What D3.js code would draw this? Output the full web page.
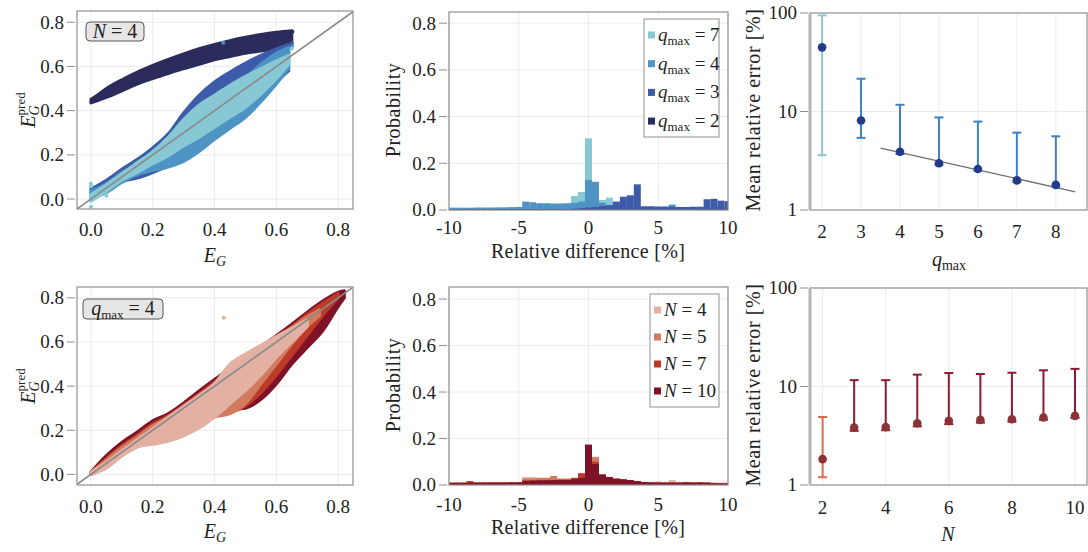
<!DOCTYPE html>
<html>
<head>
<meta charset="utf-8">
<script src="https://cdn.jsdelivr.net/npm/d3@7"></script>
<style>
body { margin: 0; background: #fff; }
svg text { font-family: "Liberation Serif", "Times New Roman", "DejaVu Serif", serif; fill: #222; }
</style>
</head>
<body>
<svg id="fig" width="1088" height="552" font-family="Liberation Serif, Times New Roman, serif"></svg>
<script>
// ---------- data ----------
// scatter envelopes: [E_G, lower E_G^pred, upper E_G^pred]
const bandQ2 = [[0.00,0.435,0.452],[0.02,0.445,0.47],[0.05,0.46,0.50],[0.10,0.49,0.54],[0.15,0.52,0.575],[0.20,0.545,0.605],[0.25,0.568,0.632],[0.30,0.59,0.657],[0.35,0.61,0.68],[0.40,0.63,0.70],[0.45,0.645,0.717],[0.50,0.66,0.732],[0.55,0.67,0.745],[0.60,0.68,0.755],[0.65,0.69,0.762]];
const bandQ3 = [[0.00,0.025,0.045],[0.05,0.05,0.085],[0.10,0.08,0.135],[0.15,0.095,0.18],[0.20,0.12,0.232],[0.25,0.15,0.295],[0.30,0.19,0.39],[0.35,0.24,0.47],[0.40,0.29,0.53],[0.45,0.34,0.575],[0.50,0.40,0.615],[0.55,0.46,0.65],[0.60,0.53,0.68],[0.64,0.58,0.70]];
const bandQ4 = [[0.00,0.0,0.035],[0.05,0.03,0.07],[0.10,0.075,0.12],[0.15,0.11,0.16],[0.20,0.13,0.205],[0.25,0.145,0.265],[0.30,0.17,0.345],[0.35,0.215,0.41],[0.40,0.27,0.46],[0.45,0.32,0.505],[0.50,0.37,0.55],[0.55,0.44,0.61],[0.60,0.52,0.66],[0.64,0.59,0.685]];
const bandQ7 = [[0.00,-0.01,0.02],[0.05,0.035,0.065],[0.10,0.085,0.115],[0.15,0.12,0.165],[0.20,0.16,0.215],[0.25,0.195,0.28],[0.30,0.24,0.36],[0.35,0.28,0.425],[0.40,0.325,0.47],[0.45,0.37,0.515],[0.50,0.415,0.555],[0.55,0.475,0.59],[0.60,0.545,0.625],[0.64,0.61,0.65]];
const dotsQ2 = [[0.652,0.757]];
const dotsQ3 = [[0.65,0.705]];
const dotsQ4 = [[0.428,0.707],[0.65,0.69]];
const dotsQ7 = [[0,0.07],[0,0.058],[0,-0.035],[0.05,0.015],[0.65,0.68]];

const bandN10 = [[0.00,0.0,0.01],[0.05,0.04,0.085],[0.10,0.095,0.145],[0.15,0.14,0.192],[0.20,0.19,0.243],[0.25,0.235,0.275],[0.30,0.28,0.323],[0.35,0.31,0.378],[0.40,0.31,0.43],[0.45,0.295,0.478],[0.50,0.30,0.528],[0.55,0.34,0.578],[0.60,0.41,0.628],[0.65,0.50,0.68],[0.70,0.575,0.735],[0.75,0.65,0.785],[0.80,0.76,0.825],[0.82,0.80,0.832]];
const bandN7 = [[0.00,0.0,0.008],[0.05,0.035,0.072],[0.10,0.09,0.13],[0.15,0.135,0.178],[0.20,0.18,0.228],[0.25,0.22,0.265],[0.30,0.26,0.313],[0.35,0.28,0.365],[0.40,0.29,0.418],[0.45,0.285,0.47],[0.50,0.31,0.52],[0.55,0.37,0.57],[0.60,0.45,0.62],[0.65,0.54,0.67],[0.70,0.63,0.725],[0.75,0.72,0.775],[0.80,0.80,0.82]];
const bandN5 = [[0.00,0.0,0.01],[0.05,0.03,0.066],[0.10,0.085,0.122],[0.15,0.125,0.17],[0.20,0.15,0.22],[0.25,0.17,0.262],[0.30,0.2,0.31],[0.35,0.235,0.36],[0.40,0.26,0.41],[0.45,0.275,0.46],[0.50,0.32,0.51],[0.55,0.41,0.56],[0.60,0.50,0.62],[0.65,0.59,0.665],[0.70,0.67,0.715],[0.74,0.72,0.745]];
const bandN4 = [[0.00,0.0,0.008],[0.05,0.03,0.055],[0.10,0.085,0.107],[0.15,0.125,0.157],[0.20,0.137,0.207],[0.25,0.15,0.257],[0.30,0.175,0.307],[0.35,0.21,0.357],[0.40,0.26,0.412],[0.45,0.32,0.50],[0.50,0.38,0.545],[0.55,0.45,0.585],[0.60,0.53,0.625],[0.65,0.60,0.662],[0.70,0.67,0.70]];
const dotsN4 = [[0.43,0.71]];

// histograms, bins of 0.5 % centred on these values
const binCenters = [-10,-9.5,-9,-8.5,-8,-7.5,-7,-6.5,-6,-5.5,-5,-4.5,-4,-3.5,-3,-2.5,-2,-1.5,-1,-0.5,0,0.5,1,1.5,2,2.5,3,3.5,4,4.5,5,5.5,6,6.5,7,7.5,8,8.5,9,9.5,10];
const histQ7 = [0.011,0.011,0.011,0.01,0.01,0.01,0.01,0.01,0.01,0.011,0.012,0.02,0.02,0.02,0.02,0.02,0.02,0.025,0.06,0.077,0.307,0.10,0.043,0.053,0.012,0.01,0.01,0.01,0.01,0.01,0.01,0.01,0.01,0.01,0.01,0.01,0.01,0.01,0.01,0.01,0.01];
const histQ4 = [0.008,0.008,0.008,0.009,0.01,0.01,0.01,0.011,0.011,0.012,0.013,0.036,0.033,0.029,0.029,0.028,0.028,0.029,0.031,0.036,0.129,0.121,0.031,0.022,0.02,0.013,0.013,0.013,0.013,0.013,0.013,0.013,0.023,0.012,0.012,0.012,0.012,0.012,0.012,0.012,0.012];
const histQ3 = [0.003,0.003,0.003,0.003,0.003,0.003,0.003,0.003,0.003,0.003,0.003,0.003,0.003,0.003,0.003,0.003,0.003,0.003,0.006,0.008,0.011,0.013,0.017,0.02,0.036,0.057,0.063,0.11,0.016,0.016,0.015,0.015,0.014,0.013,0.013,0.014,0.014,0.046,0.048,0.04,0.038];
const histQ2 = [0.002,0.002,0.002,0.002,0.002,0.002,0.002,0.002,0.002,0.002,0.002,0.002,0.002,0.002,0.002,0.002,0.002,0.002,0.002,0.002,0.002,0.002,0.002,0.002,0.002,0.002,0.002,0.002,0.002,0.002,0.002,0.002,0.002,0.002,0.002,0.002,0.003,0.003,0.003,0.003,0.003];

const histN4 = [0.01,0.01,0.01,0.01,0.01,0.01,0.011,0.013,0.011,0.012,0.012,0.034,0.034,0.032,0.032,0.033,0.028,0.028,0.026,0.04,0.12,0.122,0.04,0.036,0.028,0.026,0.022,0.018,0.013,0.012,0.016,0.012,0.021,0.011,0.011,0.011,0.011,0.011,0.011,0.01,0.01];
const histN5 = [0.01,0.01,0.01,0.012,0.01,0.01,0.011,0.011,0.011,0.011,0.011,0.028,0.028,0.03,0.03,0.039,0.027,0.027,0.025,0.04,0.14,0.119,0.04,0.033,0.027,0.024,0.021,0.017,0.013,0.011,0.011,0.011,0.011,0.011,0.011,0.011,0.011,0.01,0.009,0.009,0.009];
const histN7 = [0.01,0.01,0.01,0.017,0.011,0.011,0.011,0.011,0.011,0.011,0.011,0.02,0.021,0.022,0.022,0.022,0.022,0.022,0.031,0.051,0.15,0.1,0.04,0.033,0.027,0.024,0.021,0.017,0.013,0.011,0.01,0.01,0.01,0.01,0.013,0.01,0.012,0.01,0.008,0.008,0.008];
const histN10 = [0.009,0.009,0.009,0.01,0.01,0.01,0.01,0.01,0.01,0.011,0.011,0.017,0.018,0.019,0.02,0.021,0.022,0.022,0.025,0.03,0.174,0.09,0.046,0.034,0.027,0.024,0.021,0.017,0.013,0.011,0.01,0.01,0.01,0.01,0.01,0.01,0.01,0.01,0.007,0.006,0.006];

// mean relative error [%] with error bars
const qmax = [2,3,4,5,6,7,8];
const errQMean = [44.8,8.1,3.9,2.98,2.61,2.0,1.8];
const errQLow = [3.6,5.4,3.7,2.85,2.5,1.92,1.72];
const errQHigh = [94.7,21.5,11.7,8.7,7.9,6.1,5.6];
const fitQ = [[3.5,4.25],[8.5,1.53]];

const nSites = [2,3,4,5,6,7,8,9,10];
const errNMean = [1.83,3.83,3.87,4.24,4.48,4.58,4.65,4.84,5.03];
const errNLow = [1.2,3.55,3.6,3.94,4.15,4.3,4.4,4.6,4.8];
const errNHigh = [4.9,11.6,11.6,13.2,13.7,13.4,13.8,14.6,15.1];

const blues = {2: "#2b2c5c", 3: "#3d5ba8", 4: "#4d93c4", 7: "#88c8d5"};
const reds = {4: "#e2b1a3", 5: "#d27b5f", 7: "#bd3b26", 10: "#7e1229"};

// ---------- helpers ----------
const svg = d3.select("#fig");
const SERIF = "Liberation Serif, Times New Roman, serif";
let clipId = 0;

function makePanel(box, xDomain, yDomain, log) {
    const x = d3.scaleLinear().domain(xDomain).range([box.l, box.r]);
    const y = (log ? d3.scaleLog() : d3.scaleLinear()).domain(yDomain).range([box.b, box.t]);
    const id = "clip" + (clipId++);
    svg.append("clipPath").attr("id", id)
        .append("rect").attr("x", box.l).attr("y", box.t)
        .attr("width", box.r - box.l).attr("height", box.b - box.t);
    return {x, y, box, clip: "url(#" + id + ")"};
}

function grid(p, xt, yt) {
    const g = svg.append("g").attr("stroke", "#ececec").attr("stroke-width", 1);
    g.selectAll(null).data(xt).join("line")
        .attr("x1", d => p.x(d)).attr("x2", d => p.x(d))
        .attr("y1", p.box.t).attr("y2", p.box.b);
    g.selectAll(null).data(yt).join("line")
        .attr("x1", p.box.l).attr("x2", p.box.r)
        .attr("y1", d => p.y(d)).attr("y2", d => p.y(d));
}

function frame(p, xt, yt, xfmt, yfmt, xoff, thickLeft) {
    const b = p.box;
    svg.append("rect").attr("x", b.l).attr("y", b.t)
        .attr("width", b.r - b.l).attr("height", b.b - b.t)
        .attr("fill", "none").attr("stroke", "#8f8f8f").attr("stroke-width", 1.2);
    if (thickLeft) {
        svg.append("line").attr("x1", b.l).attr("x2", b.l).attr("y1", b.t).attr("y2", b.b)
            .attr("stroke", "#b5b5b5").attr("stroke-width", 3);
    }
    svg.append("g").selectAll("line").data(yt).join("line")
        .attr("x1", b.l - 10).attr("x2", b.l - 2)
        .attr("y1", d => p.y(d)).attr("y2", d => p.y(d))
        .attr("stroke", "#8f8f8f").attr("stroke-width", 1);
    svg.append("g").selectAll("text").data(yt).join("text")
        .attr("font-family", SERIF)
        .attr("x", b.l - 13).attr("y", d => p.y(d)).attr("dy", "0.34em")
        .attr("text-anchor", "end").attr("font-size", 19).text(yfmt);
    svg.append("g").selectAll("text").data(xt).join("text")
        .attr("font-family", SERIF)
        .attr("x", d => p.x(d)).attr("y", b.b + xoff)
        .attr("text-anchor", "middle").attr("font-size", 19).text(xfmt);
}

function band(p, data, color) {
    const area = d3.area()
        .x(d => p.x(d[0])).y0(d => p.y(d[1])).y1(d => p.y(d[2]))
        .curve(d3.curveMonotoneX);
    svg.append("path").attr("clip-path", p.clip)
        .attr("d", area(data)).attr("fill", color)
        .attr("stroke", color).attr("stroke-width", 3).attr("stroke-linejoin", "round");
}

function dots(p, data, color) {
    svg.append("g").attr("clip-path", p.clip).selectAll("circle").data(data).join("circle")
        .attr("cx", d => p.x(d[0])).attr("cy", d => p.y(d[1])).attr("r", 2)
        .attr("fill", color);
}

function bars(p, values, color) {
    svg.append("g").attr("clip-path", p.clip).selectAll("rect").data(values).join("rect")
        .attr("x", (d, i) => p.x(binCenters[i] - 0.25))
        .attr("width", (d, i) => p.x(binCenters[i] + 0.25) - p.x(binCenters[i] - 0.25))
        .attr("y", d => p.y(d)).attr("height", d => p.y(0) - p.y(d))
        .attr("fill", color);
}

function diag(p) {
    svg.append("line").attr("clip-path", p.clip)
        .attr("x1", p.x(-0.1)).attr("y1", p.y(-0.1))
        .attr("x2", p.x(0.9)).attr("y2", p.y(0.9))
        .attr("stroke", "#8a8a8a").attr("stroke-width", 1.6);
}

function errbars(p, xs, mean, lo, hi, colorOf, dotColor) {
    const g = svg.append("g");
    xs.forEach((v, i) => {
        const c = colorOf(v);
        const cx = p.x(v);
        g.append("line").attr("x1", cx).attr("x2", cx)
            .attr("y1", p.y(lo[i])).attr("y2", p.y(hi[i]))
            .attr("stroke", c).attr("stroke-width", 2);
        [lo[i], hi[i]].forEach(e => {
            g.append("line").attr("x1", cx - 4.5).attr("x2", cx + 4.5)
                .attr("y1", p.y(e)).attr("y2", p.y(e))
                .attr("stroke", c).attr("stroke-width", 2);
        });
    });
    g.selectAll("circle").data(xs).join("circle")
        .attr("cx", d => p.x(d)).attr("cy", (d, i) => p.y(mean[i]))
        .attr("r", 4.3).attr("fill", dotColor);
}

// math-ish labels built from tspans
function mathLabel(t, parts) {
    parts.forEach(s => {
        const sp = t.append("tspan").text(s.t);
        if (s.i) sp.attr("font-style", "italic");
        if (s.fs) sp.attr("font-size", s.fs);
        if (s.dx) sp.attr("dx", s.dx);
        if (s.dy) sp.attr("dy", s.dy);
    });
    return t;
}

function xLabel(x, y, parts, spacing) {
    const t = svg.append("text").attr("x", x).attr("y", y).attr("font-family", SERIF)
        .attr("text-anchor", "middle").attr("font-size", 20);
    if (spacing) t.attr("letter-spacing", spacing);
    mathLabel(t, parts);
}

function yLabel(x, y, parts, spacing) {
    const t = svg.append("text").attr("transform", `translate(${x},${y}) rotate(-90)`)
        .attr("font-family", SERIF)
        .attr("text-anchor", "middle").attr("font-size", 20);
    if (spacing) t.attr("letter-spacing", spacing);
    mathLabel(t, parts);
}

function legend(x, y, w, h, rowH, entries) {
    svg.append("rect").attr("x", x).attr("y", y).attr("width", w).attr("height", h)
        .attr("fill", "#fff").attr("stroke", "#8f8f8f").attr("stroke-width", 1);
    entries.forEach((e, i) => {
        const cy = y + 16 + i * rowH;
        svg.append("rect").attr("x", x + 4).attr("y", cy - 3.5).attr("width", 7).attr("height", 7)
            .attr("fill", e.color);
        const t = svg.append("text").attr("x", x + 14).attr("y", cy + 6)
            .attr("font-family", SERIF).attr("font-size", 19);
        mathLabel(t, e.parts);
    });
}

function tagBox(x, y, w, h, parts) {
    svg.append("rect").attr("x", x).attr("y", y).attr("width", w).attr("height", h)
        .attr("rx", 4).attr("fill", "#e6e6e6").attr("stroke", "#555").attr("stroke-width", 1);
    const t = svg.append("text").attr("x", x + w / 2).attr("y", y + h / 2 + 6)
        .attr("font-family", SERIF)
        .attr("text-anchor", "middle").attr("font-size", 20);
    mathLabel(t, parts);
}

const fmt1 = d3.format(".1f");
const fmtHist = d => d;
const eTicks = [0, 0.2, 0.4, 0.6, 0.8];
const pTicks = [0, 0.2, 0.4, 0.6, 0.8];
const dTicks = [-10, -5, 0, 5, 10];
const logTicks = [1, 10, 100];

const qmaxParts = v => [{t: "q", i: true}, {t: "max", fs: 13, dy: 4}, {t: " = " + v, dy: -4}];
const nParts = v => [{t: "N", i: true}, {t: " = " + v}];
const egParts = [{t: "E", i: true}, {t: "G", i: true, fs: 14, dy: 4}];
const egPredParts = [{t: "E", i: true}, {t: "G", i: true, fs: 14, dy: 4}, {t: "pred", fs: 13, dx: -10, dy: -14}];

// ---------- top row ----------
const p1 = makePanel({l: 77, r: 353, t: 11, b: 209}, [-0.045, 0.848], [-0.045, 0.851]);
grid(p1, eTicks, eTicks);
band(p1, bandQ2, blues[2]);
band(p1, bandQ3, blues[3]);
band(p1, bandQ4, blues[4]);
band(p1, bandQ7, blues[7]);
dots(p1, dotsQ2, blues[2]);
dots(p1, dotsQ3, blues[3]);
dots(p1, dotsQ4, blues[4]);
dots(p1, dotsQ7, blues[7]);
diag(p1);
frame(p1, eTicks, eTicks, fmt1, fmt1, 27);
tagBox(86, 22, 58, 19, nParts(4));
xLabel(215, 262, egParts);
yLabel(35, 110, egPredParts);

const p2 = makePanel({l: 449, r: 728, t: 12, b: 210}, [-10, 10], [0, 0.848]);
grid(p2, dTicks, pTicks);
bars(p2, histQ7, blues[7]);
bars(p2, histQ4, blues[4]);
bars(p2, histQ3, blues[3]);
bars(p2, histQ2, blues[2]);
frame(p2, dTicks, pTicks, fmtHist, fmt1, 24);
legend(644, 19, 75, 118, 28.7, [7, 4, 3, 2].map(q => ({color: blues[q], parts: qmaxParts(q)})));
xLabel(588, 258, [{t: "Relative difference [%]"}], 0.3);
yLabel(400, 110, [{t: "Probability"}], 0.5);

const p3 = makePanel({l: 810, r: 1087, t: 13, b: 210}, [1.69, 8.8], [1, 100], true);
grid(p3, qmax, [10]);
svg.append("path")
    .attr("d", d3.line().x(d => p3.x(d[0])).y(d => p3.y(d[1]))(fitQ))
    .attr("stroke", "#6e6e6e").attr("stroke-width", 1.3).attr("fill", "none");
errbars(p3, qmax, errQMean, errQLow, errQHigh, q => q === 2 ? "#88c8d5" : "#3f80c0", "#213a8a");
frame(p3, qmax, logTicks, d => d, d => d, 28, true);
xLabel(949, 266, [{t: "q", i: true}, {t: "max", fs: 14, dy: 4}]);
yLabel(760, 110, [{t: "Mean relative error [%]"}], 0.6);

// ---------- bottom row ----------
const p4 = makePanel({l: 77, r: 353, t: 287, b: 485}, [-0.045, 0.848], [-0.048, 0.849]);
grid(p4, eTicks, eTicks);
band(p4, bandN10, reds[10]);
band(p4, bandN7, reds[7]);
band(p4, bandN5, reds[5]);
band(p4, bandN4, reds[4]);
dots(p4, dotsN4, reds[4]);
diag(p4);
frame(p4, eTicks, eTicks, fmt1, fmt1, 28);
tagBox(83, 299, 80, 20, qmaxParts(4));
xLabel(215, 538, egParts);
yLabel(35, 386, egPredParts);

const p5 = makePanel({l: 449, r: 728, t: 287, b: 485}, [-10, 10], [0, 0.852]);
grid(p5, dTicks, pTicks);
bars(p5, histN4, reds[4]);
bars(p5, histN5, reds[5]);
bars(p5, histN7, reds[7]);
bars(p5, histN10, reds[10]);
frame(p5, dTicks, pTicks, fmtHist, fmt1, 26);
legend(650, 294, 69, 113, 27, [4, 5, 7, 10].map(n => ({color: reds[n], parts: nParts(n)})));
xLabel(588, 534, [{t: "Relative difference [%]"}], 0.3);
yLabel(400, 385, [{t: "Probability"}], 0.5);

const p6 = makePanel({l: 810, r: 1087, t: 288, b: 485}, [1.6, 10.38], [1, 100], true);
grid(p6, [2, 4, 6, 8, 10], [10]);
errbars(p6, nSites, errNMean, errNLow, errNHigh, n => n === 2 ? "#d9694e" : "#8c1a31", "#8c3236");
frame(p6, [2, 4, 6, 8, 10], logTicks, d => d, d => d, 29, true);
xLabel(948, 541, [{t: "N", i: true}]);
yLabel(760, 385, [{t: "Mean relative error [%]"}], 0.6);
</script>
</body>
</html>
